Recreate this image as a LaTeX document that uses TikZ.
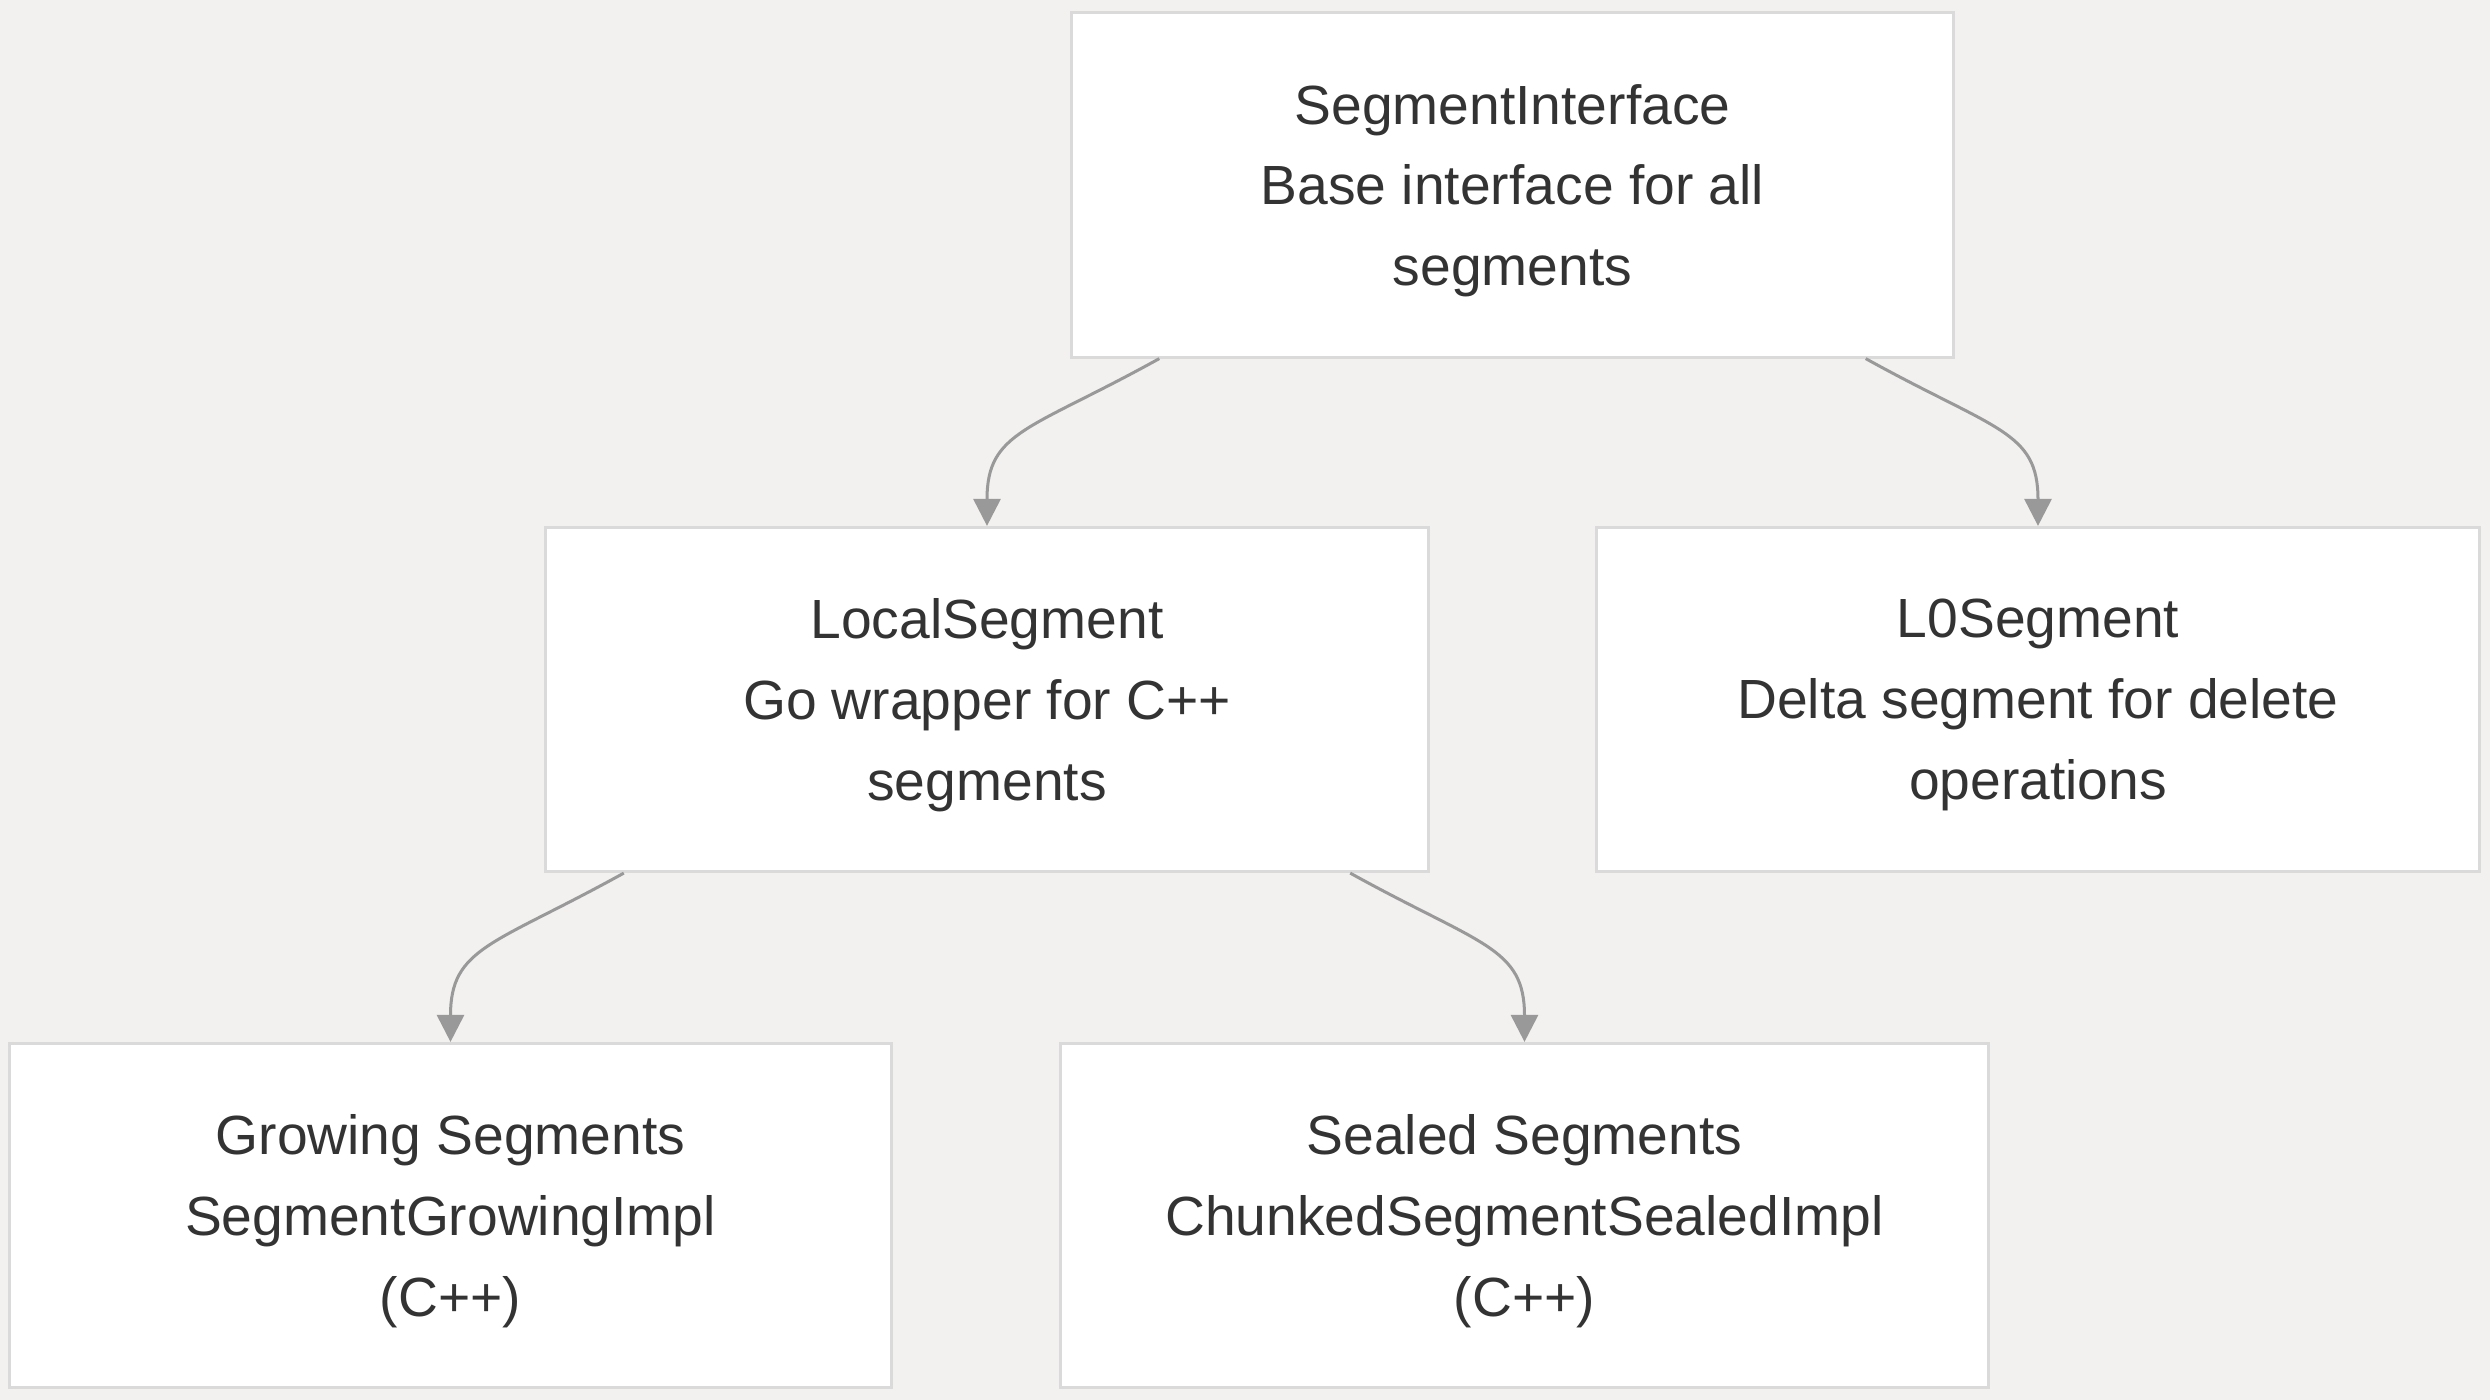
\documentclass[tikz,border=0pt]{standalone}
\usepackage{fontspec}
\setmainfont{Liberation Sans}
\usepackage{tikz}
\usetikzlibrary{arrows.meta}
\definecolor{bgcol}{HTML}{F2F1EF}
\definecolor{boxline}{HTML}{DADADA}
\definecolor{linkcol}{HTML}{999999}
\definecolor{txtcol}{HTML}{333333}

\begin{document}
\begin{tikzpicture}[x=0.01cm,y=-0.01cm,
	box/.style={draw=boxline,fill=white,line width=0.03cm,text=txtcol,align=center,text depth=0pt,
		minimum height=3.44cm,inner sep=0pt,font=\fontsize{15.7}{23}\selectfont},
	link/.style={draw=linkcol,line width=0.03cm,-{Triangle[length=0.27cm,width=0.27cm]}}]
						\fill[bgcol] (0,0) rectangle (2490,1400);
						\useasboundingbox (0,0) rectangle (2490,1400);
						\node[box,minimum width=8.81cm] (iface) at (1512.5,185) {SegmentInterface\\Base interface for all\\segments};
						\node[box,minimum width=8.82cm] (local) at (987,699.5) {LocalSegment\\Go wrapper for C++\\segments};
						\node[box,minimum width=8.82cm] (lzero) at (2038,699.5) {L0Segment\\Delta segment for delete\\operations};
						\node[box,minimum width=8.81cm] (growing) at (450.5,1215.5) {Growing Segments\\SegmentGrowingImpl\\(C++)};
						\node[box,minimum width=9.27cm] (sealed) at (1524.5,1215.5) {Sealed Segments\\ChunkedSegmentSealedImpl\\(C++)};
						\draw[link] ([xshift=-3.53cm]iface.south) .. controls +(-130,72) and +(0,-95) .. (local.north);
						\draw[link] ([xshift=3.53cm]iface.south) .. controls +(130,72) and +(0,-95) .. (lzero.north);
						\draw[link] ([xshift=-3.63cm]local.south) .. controls +(-130,72) and +(0,-95) .. (growing.north);
						\draw[link] ([xshift=3.63cm]local.south) .. controls +(130,72) and +(0,-95) .. (sealed.north);
					\end{tikzpicture}
\end{document}
